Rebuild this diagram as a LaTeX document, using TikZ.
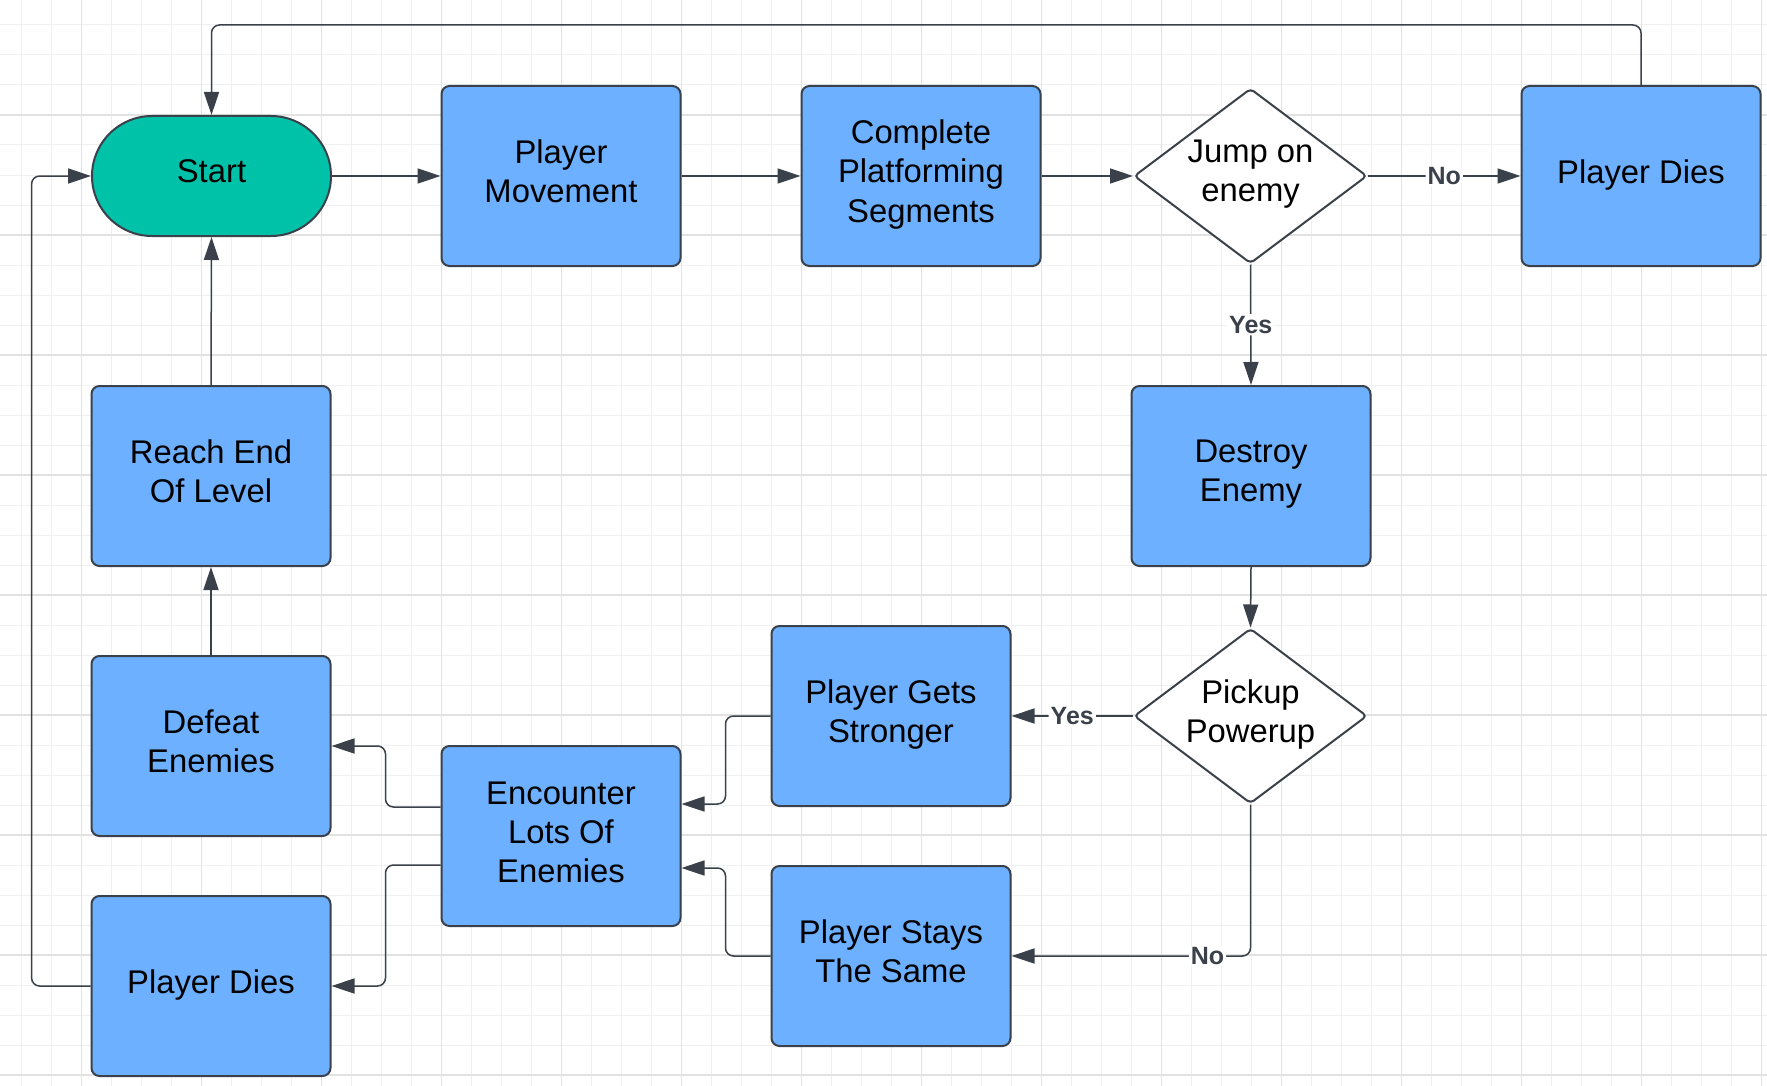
\documentclass[tikz,border=0pt]{standalone}
\usepackage{fontspec}
\setmainfont{Liberation Sans}
\usetikzlibrary{shapes.geometric,arrows.meta}

\definecolor{boxblue}{RGB}{108,176,255}
\definecolor{startteal}{RGB}{0,194,168}
\definecolor{edgegray}{RGB}{58,65,74}
\definecolor{gridminor}{RGB}{240,240,240}
\definecolor{gridmajor}{RGB}{226,226,226}

\tikzset{
  box/.style={draw=edgegray, line width=1pt, fill=boxblue, rounded corners=4pt,
    minimum width=119.5pt, minimum height=90pt, align=center, text depth=5pt,
    font=\fontsize{16.4}{19.6}\selectfont},
  decision/.style={draw=edgegray, line width=1pt, fill=white, diamond, rounded corners=2pt,
    inner sep=0pt, shape aspect=1.33, minimum width=116.5pt, minimum height=87.5pt,
    align=center, text depth=5pt, font=\fontsize{16.4}{19.6}\selectfont},
  conn/.style={draw=edgegray, line width=0.75pt, rounded corners=4pt,
    -{Triangle[length=11.5pt,width=7.5pt]}},
  lbl/.style={fill=white, inner sep=1pt, text=edgegray,
    font=\fontsize{12.5}{14}\selectfont\bfseries}
}

\begin{document}
\begin{tikzpicture}[x=0.5pt, y=-0.5pt]
    \useasboundingbox (0,0) rectangle (1767,1086);
    % grid
    \foreach \x in {21.7,51.7,...,1767} \draw[gridminor, line width=0.5pt] (\x,0) -- (\x,1086);
    \foreach \y in {25,55,...,1086} \draw[gridminor, line width=0.5pt] (0,\y) -- (1767,\y);
    \foreach \x in {81.7,201.7,...,1767} \draw[gridmajor, line width=0.6pt] (\x,0) -- (\x,1086);
    \foreach \y in {115,235,...,1086} \draw[gridmajor, line width=0.6pt] (0,\y) -- (1767,\y);

    % nodes
    \node[box, fill=startteal, rounded corners=30pt, minimum height=60pt] (start) at (211.5,176) {Start};
    \node[box] (move) at (561,176) {Player\\Movement};
    \node[box] (platform) at (921,176) {Complete\\Platforming\\Segments};
    \node[decision] (jump) at (1250.5,176) {Jump on\\enemy};
    \node[box, text depth=4pt] (dies1) at (1641,176) {Player Dies};
    \node[box] (destroy) at (1251,476) {Destroy\\Enemy};
    \node[decision] (pickup) at (1250.5,716) {Pickup\\Powerup};
    \node[box] (stronger) at (891,716) {Player Gets\\Stronger};
    \node[box] (same) at (891,956) {Player Stays\\The Same};
    \node[box, text depth=4pt] (encounter) at (561,836) {Encounter\\Lots Of\\Enemies};
    \node[box] (defeat) at (211,746) {Defeat\\Enemies};
    \node[box] (reach) at (211,476) {Reach End\\Of Level};
    \node[box, text depth=4pt] (dies2) at (211,986) {Player Dies};

    \coordinate (top) at (0,25);
    \coordinate (left) at (31.6,0);

    % connectors
    \draw[conn] (start.east) -- (move.west);
    \draw[conn] (move.east) -- (platform.west);
    \draw[conn] (platform.east) -- (jump.west);
    \draw[conn] (jump.east) -- (dies1.west) node[lbl, midway] {No};
    \draw[conn] (dies1.north) -- (dies1.north |- top) -| (start.north);
    \draw[conn] (jump.south) -- (destroy.north) node[lbl, midway] {Yes};
    \draw[conn] (destroy.south) -- (pickup.north);
    \draw[conn] (pickup.west) -- (stronger.east) node[lbl, midway] {Yes};
    \draw[conn] (pickup.south) |- (same.east) node[lbl, pos=0.59] {No};
    \draw[conn] (stronger.west) -- ++(-45,0) |- ([yshift=16pt]encounter.east);
    \draw[conn] (same.west) -- ++(-45,0) |- ([yshift=-16pt]encounter.east);
    \draw[conn] ([yshift=14.5pt]encounter.west) -- ++(-55,0) |- (defeat.east);
    \draw[conn] ([yshift=-14.5pt]encounter.west) -- ++(-55,0) |- (dies2.east);
    \draw[conn] (defeat.north) -- (reach.south);
    \draw[conn] (reach.north) -- (start.south);
    \draw[conn] (dies2.west) -- (dies2.west -| left) |- (start.west);
\end{tikzpicture}
\end{document}
